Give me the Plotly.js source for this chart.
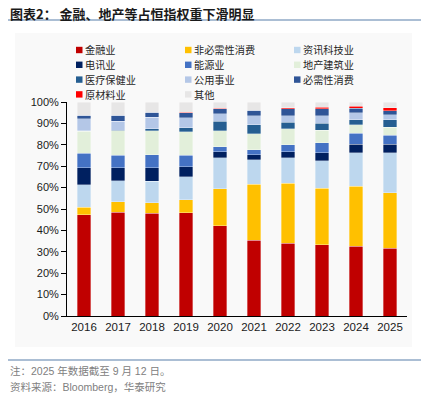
<!DOCTYPE html>
<html>
<head>
<meta charset="utf-8">
<script src="https://cdn.plot.ly/plotly-3.0.1.min.js"></script>
<style>html,body{margin:0;padding:0;background:#fff;}#chart{width:428px;height:398px;}</style>
</head>
<body>
<div id="chart"></div>
<script>
// ---- data ----
const years = ['2016','2017','2018','2019','2020','2021','2022','2023','2024','2025'];
const seriesNames = ['金融业','非必需性消费','资讯科技业','电讯业','能源业','地产建筑业','医疗保健业','公用事业','必需性消费','原材料业','其他'];
const financials   = [47.4, 48.5, 48.1, 48.2, 42.1, 35.3, 34.1, 33.3, 32.7, 31.7];
const consDisc     = [ 3.5,  4.8,  4.9,  6.1, 17.3, 26.3, 28.0, 26.4, 28.0, 25.8];
const infoTech     = [10.5, 10.0, 10.0, 10.7, 14.5, 11.5, 11.8, 12.8, 15.7, 18.7];
const telecom      = [ 7.8,  5.9,  6.2,  4.7,  2.8,  2.2,  2.8,  3.7,  3.8,  4.0];
const energy       = [ 6.8,  5.9,  6.1,  5.4,  2.3,  2.5,  3.4,  4.7,  5.3,  4.2];
const propertyCon  = [10.3, 11.5, 11.3, 10.9,  7.5,  7.3,  7.3,  6.0,  3.8,  3.8];
const healthcare   = [ 0.2,  0.3,  1.0,  1.9,  4.6,  4.2,  3.1,  3.1,  2.5,  3.4];
const utilities    = [ 5.6,  4.2,  5.2,  4.8,  3.3,  4.2,  3.1,  3.5,  3.1,  2.5];
const consStaples  = [ 1.6,  2.7,  2.4,  2.3,  2.5,  2.6,  3.3,  3.4,  2.1,  1.9];
const materials    = [ 0.1,  0.1,  0.1,  0.1,  0.1,  0.1,  0.4,  0.6,  1.0,  1.2];
const others       = [ 6.2,  6.1,  4.7,  4.9,  3.0,  3.8,  2.7,  2.5,  2.0,  2.8];
const yTickVals = [0,10,20,30,40,50,60,70,80,90,100];
const yTickText = ['0%','10%','20%','30%','40%','50%','60%','70%','80%','90%','100%'];
const titleText = '图表2：&nbsp;金融、地产等占恒指权重下滑明显';
const noteText = '注：2025 年数据截至 9 月 12 日。';
const sourceText = '资料来源：Bloomberg，华泰研究';

// ---- styles ----
const colors = ['#C00000','#FFC000','#BDD7EE','#002060','#4472C4','#E2EFDA','#255E91','#B4C7E7','#2F5597','#FF0000','#E7E6E6'];
const values = [financials, consDisc, infoTech, telecom, energy, propertyCon, healthcare, utilities, consStaples, materials, others];

const W = 428, H = 398;
const M = {l:67, r:21, t:102, b:82};
const PW = W - M.l - M.r, PH = H - M.t - M.b;
const px = x => (x - M.l) / PW;
const py = y => 1 - (y - M.t) / PH;

const traces = seriesNames.map((name, i) => ({
  type: 'bar', name: name, x: years, y: values[i],
  marker: {color: colors[i], line: {color: 'rgba(255,255,255,0.55)', width: 0.6}},
  showlegend: false, hoverinfo: 'x+y+name'
}));

const shapes = [
  {type:'rect', xref:'paper', yref:'paper', x0:px(15), x1:px(412), y0:py(33), y1:py(347), fillcolor:'#F9F9F9', line:{width:0}, layer:'below'},
  {type:'line', xref:'paper', yref:'paper', x0:px(8), x1:px(421), y0:py(20), y1:py(20), line:{color:'#8FA9C6', width:1.5}},
  {type:'line', xref:'paper', yref:'paper', x0:px(8), x1:px(421), y0:py(360), y1:py(360), line:{color:'#8FA9C6', width:1.5}}
];
const annotations = [
  {xref:'paper', yref:'paper', x:px(8), y:py(13.5), xanchor:'left', yanchor:'middle', showarrow:false, text:titleText,
   font:{family:'Noto Sans CJK SC', size:13, color:'#1a1a1a', weight:'bold'}},
  {xref:'paper', yref:'paper', x:px(8), y:py(370.5), xanchor:'left', yanchor:'middle', showarrow:false, text:noteText,
   font:{family:'Liberation Sans, Noto Sans CJK SC', size:10.5, color:'#808080'}},
  {xref:'paper', yref:'paper', x:px(8), y:py(387), xanchor:'left', yanchor:'middle', showarrow:false, text:sourceText,
   font:{family:'Liberation Sans, Noto Sans CJK SC', size:10.5, color:'#808080'}}
];
// manual legend (3 columns)
const colX = [76, 185, 294], rowY = [50.0, 64.8, 79.6, 94.4];
seriesNames.forEach((name, i) => {
  const cx = colX[i % 3], cy = rowY[Math.floor(i / 3)];
  shapes.push({type:'rect', xref:'paper', yref:'paper', x0:px(cx), x1:px(cx+6.5), y0:py(cy-3.2), y1:py(cy+3.2),
    fillcolor:colors[i], line:{width:0}});
  annotations.push({xref:'paper', yref:'paper', x:px(cx+8.5), y:py(cy), xanchor:'left', yanchor:'middle', showarrow:false,
    text:name, borderpad:0, borderwidth:0, font:{family:'Noto Sans CJK SC', size:10.2, color:'#262626'}});
});

const layout = {
  width: W, height: H,
  margin: M,
  paper_bgcolor: '#ffffff', plot_bgcolor: 'rgba(0,0,0,0)',
  barmode: 'stack', barnorm: 'percent', bargap: 0.59,
  font: {family: 'Liberation Sans, Arial, sans-serif', size: 11, color: '#1a1a1a'},
  xaxis: {type:'category', showline:true, linecolor:'#000', linewidth:1.3, ticks:'', showgrid:false,
          tickfont:{size:11.5, color:'#1a1a1a'}, zeroline:false, fixedrange:true},
  yaxis: {range:[0,100], tickvals:yTickVals, ticktext:yTickText, showline:true, linecolor:'#000', linewidth:1,
          ticks:'outside', ticklen:5, tickcolor:'#000', showgrid:false, zeroline:false,
          tickfont:{size:11, color:'#1a1a1a'}, fixedrange:true},
  showlegend: false,
  shapes: shapes, annotations: annotations
};
Plotly.newPlot('chart', traces, layout, {displayModeBar:false, staticPlot:true});
</script>
</body>
</html>
